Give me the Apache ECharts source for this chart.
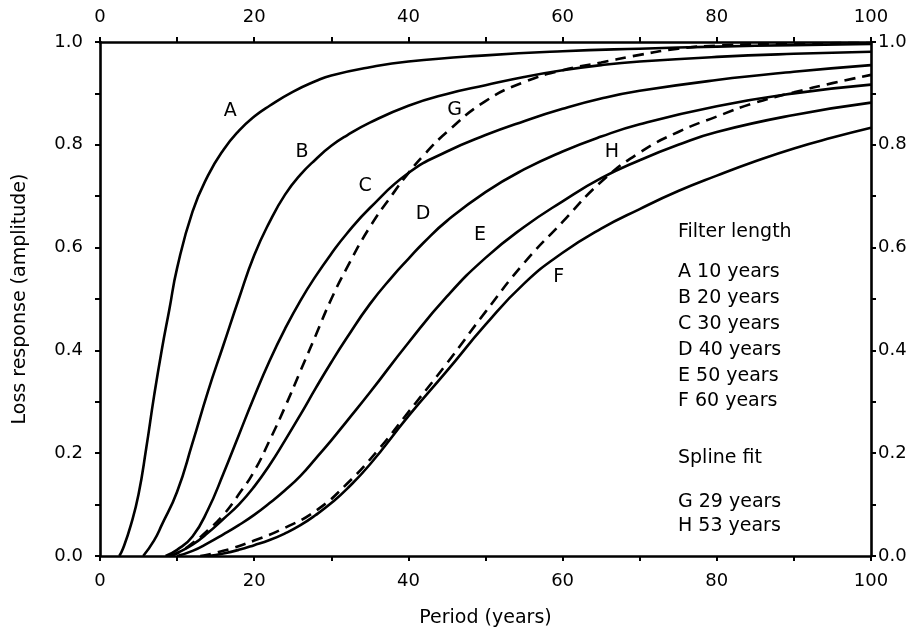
<!DOCTYPE html>
<html><head><meta charset="utf-8">
<script src="https://cdn.jsdelivr.net/npm/echarts/dist/echarts.min.js"></script>
<style>html,body{margin:0;padding:0;background:#fff}#c{width:924px;height:633px}</style>
</head><body><div id="c"></div>
<script>
// Filter-length curves (solid)
const aX = [2.5, 3, 4, 5, 6, 7, 8, 9, 10, 12, 14, 16, 18, 20, 22, 25, 28, 30, 35, 40, 50, 60, 70, 80, 90, 100];
const aY = [0, 0.015, 0.06, 0.12, 0.21, 0.31, 0.40, 0.48, 0.56, 0.67, 0.74, 0.79, 0.827, 0.855, 0.876, 0.903, 0.924, 0.935, 0.951, 0.962, 0.974, 0.982, 0.987, 0.991, 0.994, 0.996];
const bX = [5.6, 7, 8, 10, 12, 14, 16, 18, 20, 22, 24, 26, 28, 30, 32, 35, 40, 45, 50, 55, 60, 65, 70, 80, 90, 100];
const bY = [0, 0.03, 0.06, 0.125, 0.22, 0.32, 0.41, 0.5, 0.585, 0.65, 0.703, 0.742, 0.772, 0.798, 0.818, 0.843, 0.876, 0.899, 0.916, 0.932, 0.945, 0.955, 0.962, 0.971, 0.977, 0.981];
const cX = [8.5, 10, 12, 14, 16, 18, 20, 22, 24, 26, 28, 30, 32, 35, 40, 45, 50, 55, 60, 65, 70, 80, 90, 100];
const cY = [0, 0.012, 0.038, 0.09, 0.16, 0.235, 0.31, 0.38, 0.442, 0.497, 0.545, 0.588, 0.627, 0.677, 0.745, 0.787, 0.819, 0.846, 0.87, 0.89, 0.905, 0.926, 0.942, 0.955];
const dX = [9, 10, 12, 14, 16, 18, 20, 22, 24, 26, 28, 30, 32, 35, 38, 40, 42, 45, 50, 55, 60, 65, 70, 80, 90, 100];
const dY = [0, 0.006, 0.022, 0.045, 0.072, 0.1, 0.135, 0.177, 0.225, 0.275, 0.327, 0.377, 0.424, 0.49, 0.545, 0.578, 0.61, 0.652, 0.708, 0.752, 0.787, 0.816, 0.84, 0.875, 0.9, 0.917];
const eX = [10, 12, 14, 16, 18, 20, 22, 24, 26, 28, 30, 32, 35, 40, 45, 50, 55, 60, 65, 70, 75, 80, 90, 100];
const eY = [0, 0.01, 0.025, 0.042, 0.06, 0.08, 0.103, 0.128, 0.156, 0.19, 0.225, 0.262, 0.318, 0.415, 0.505, 0.58, 0.64, 0.69, 0.735, 0.77, 0.8, 0.825, 0.858, 0.882];
const fX = [14, 16, 18, 20, 22, 24, 26, 28, 30, 32, 35, 40, 45, 50, 55, 60, 65, 70, 75, 80, 85, 90, 95, 100];
const fY = [0, 0.005, 0.012, 0.021, 0.031, 0.044, 0.06, 0.08, 0.103, 0.13, 0.178, 0.272, 0.36, 0.45, 0.53, 0.59, 0.637, 0.675, 0.71, 0.74, 0.768, 0.793, 0.814, 0.833];
// Spline fits (dashed)
const gX = [9, 10, 12, 14, 16, 18, 20, 22, 24, 26, 28, 30, 32, 35, 38, 40, 42, 45, 50, 55, 60, 65, 70, 75, 80, 90, 100];
const gY = [0, 0.005, 0.025, 0.05, 0.08, 0.12, 0.165, 0.225, 0.29, 0.36, 0.43, 0.5, 0.56, 0.64, 0.705, 0.745, 0.78, 0.825, 0.885, 0.922, 0.945, 0.96, 0.975, 0.987, 0.993, 0.997, 0.998];
const hX = [13, 16, 20, 24, 28, 32, 36, 40, 45, 50, 55, 60, 65, 70, 75, 80, 85, 90, 95, 100];
const hY = [0, 0.01, 0.03, 0.055, 0.088, 0.14, 0.205, 0.28, 0.375, 0.475, 0.57, 0.65, 0.728, 0.785, 0.825, 0.855, 0.882, 0.902, 0.92, 0.936];

// Curve letter labels (data coordinates)
const curveLabels = ['A', 'B', 'C', 'D', 'E', 'F', 'G', 'H'];
const curveLabelX = [16.9, 26.2, 34.4, 41.9, 49.3, 59.5, 46.0, 66.4];
const curveLabelY = [0.866, 0.785, 0.72, 0.665, 0.624, 0.543, 0.868, 0.785];

// Key text
const keyLines = ['Filter length', 'A 10 years', 'B 20 years', 'C 30 years', 'D 40 years', 'E 50 years', 'F 60 years', 'Spline fit', 'G 29 years', 'H 53 years'];
const keyTop = [232, 272, 298, 324, 350, 376, 401, 458, 502, 526];

const FONT = 'DejaVu Sans';
const FS = 18;

function pairs(xs, ys) { return xs.map((x, i) => [x, ys[i]]); }
function curve(name, xs, ys, dashed) {
  return {
    name, type: 'line', data: pairs(xs, ys), showSymbol: false, symbol: 'none',
    smooth: true, silent: true,
    lineStyle: { color: '#000', width: 2.6, type: dashed ? [11, 7] : 'solid' },
    z: dashed ? 3 : 2
  };
}
const xFmt = v => (Math.round(v) % 20 === 0 ? String(Math.round(v)) : '');
const yFmt = v => (Math.round(v * 10) % 2 === 0 ? v.toFixed(1) : '');
const axisLine = { show: true, onZero: false, lineStyle: { color: '#000', width: 2.6 } };
const axisTick = { show: true, inside: false, length: 5, lineStyle: { color: '#000', width: 2 } };
const lbl = (m, f) => ({ show: true, margin: m, color: '#000', fontFamily: FONT, fontSize: FS, formatter: f });

const chart = echarts.init(document.getElementById('c'), null, { renderer: 'canvas' });
chart.setOption({
  animation: false,
  backgroundColor: '#fff',
  grid: { left: 100, right: 53, top: 42, bottom: 75, containLabel: false },
  xAxis: [
    { type: 'value', position: 'bottom', min: 0, max: 100, interval: 10,
      axisLine, axisTick, axisLabel: lbl(16, xFmt), splitLine: { show: false },
      name: 'Period (years)', nameLocation: 'middle', nameGap: 53,
      nameTextStyle: { color: '#000', fontFamily: FONT, fontSize: 19 } },
    { type: 'value', position: 'top', min: 0, max: 100, interval: 10,
      axisLine, axisTick, axisLabel: lbl(16, xFmt), splitLine: { show: false } }
  ],
  yAxis: [
    { type: 'value', position: 'left', min: 0, max: 1, interval: 0.1,
      axisLine, axisTick, axisLabel: lbl(17, yFmt), splitLine: { show: false },
      name: 'Loss response (amplitude)', nameLocation: 'middle', nameGap: 70,
      nameTextStyle: { color: '#000', fontFamily: FONT, fontSize: 19 } },
    { type: 'value', position: 'right', min: 0, max: 1, interval: 0.1,
      axisLine, axisTick, axisLabel: lbl(7, yFmt), splitLine: { show: false } }
  ],
  series: [
    curve('A', aX, aY, false),
    curve('B', bX, bY, false),
    curve('C', cX, cY, false),
    curve('D', dX, dY, false),
    curve('E', eX, eY, false),
    curve('F', fX, fY, false),
    curve('G', gX, gY, true),
    curve('H', hX, hY, true),
    {
      type: 'scatter', silent: true, symbolSize: 1,
      itemStyle: { color: 'rgba(0,0,0,0)' },
      data: curveLabels.map((t, i) => [curveLabelX[i], curveLabelY[i], t]),
      label: { show: true, position: 'inside', formatter: p => p.data[2],
        color: '#000', opacity: 1, fontFamily: FONT, fontSize: 19 },
      z: 5
    }
  ],
  graphic: keyLines.map((t, i) => ({
    type: 'text', x: 678, y: keyTop[i], silent: true,
    style: { text: t, fill: '#000', font: '19px "' + FONT + '"', verticalAlign: 'middle', align: 'left' }
  }))
});
</script>
</body></html>
